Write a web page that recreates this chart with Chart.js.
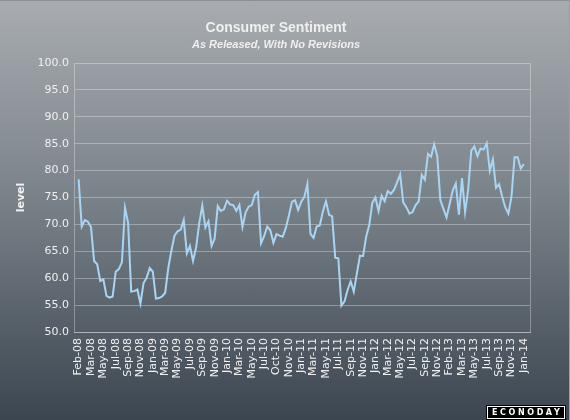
<!DOCTYPE html>
<html>
<head>
<meta charset="utf-8">
<script src="https://cdn.jsdelivr.net/npm/chart.js@4.4.1/dist/chart.umd.min.js"></script>
<style>
  html, body { margin: 0; padding: 0; }
  #wrap {
    position: relative; width: 570px; height: 420px; box-sizing: border-box;
    background: linear-gradient(to bottom, #a8acb1 0%, #7c848b 45%, #3c4650 100%);
    border-top: 1px solid #8d9196; border-right: 1px solid #9aa0a6;
  }
  canvas { display: block; }
</style>
</head>
<body>
<div id="wrap"><canvas id="c" width="570" height="420"></canvas></div>
<script>
// Tick labels (release dates, every 4th release)
const tickLabels = ["Feb-08","Mar-08","May-08","Jul-08","Sep-08","Nov-08","Jan-09","Mar-09","May-09","Jul-09","Sep-09","Nov-09","Jan-10","Mar-10","May-10","Jul-10","Oct-10","Nov-10","Jan-11","Mar-11","May-11","Jul-11","Sep-11","Nov-11","Jan-12","Mar-12","May-12","Jul-12","Sep-12","Nov-12","Feb-13","Mar-13","May-13","Jul-13","Sep-13","Nov-13","Jan-14"];

// Consumer sentiment as released (preliminary / final), by release year
const rel2008 = [78.4, 69.6, 70.8, 70.5, 69.5, 63.2, 62.6, 59.5, 59.8, 56.7, 56.4, 56.6, 61.2, 61.7, 63.0, 73.1, 70.3, 57.5, 57.6, 57.9, 55.3, 59.1, 60.1];
const rel2009 = [61.9, 61.2, 56.2, 56.3, 56.6, 57.3, 61.9, 65.1, 67.9, 68.7, 69.0, 70.8, 64.6, 66.0, 63.2, 65.7, 70.2, 73.5, 69.4, 70.6, 66.0, 67.4, 73.4, 72.5];
const rel2010 = [72.8, 74.4, 73.7, 73.6, 72.5, 73.6, 69.5, 72.2, 73.3, 73.6, 75.5, 76.0, 66.5, 67.8, 69.6, 68.9, 66.6, 68.2, 67.9, 67.7, 69.3, 71.6, 74.2, 74.5];
const rel2011 = [72.7, 74.2, 75.1, 77.5, 68.2, 67.5, 69.6, 69.8, 72.4, 74.3, 71.8, 71.5, 63.8, 63.7, 54.9, 55.7, 57.8, 59.4, 57.5, 60.9, 64.2, 64.1, 67.7, 69.9];
const rel2012 = [74.0, 75.0, 72.5, 75.3, 74.3, 76.2, 75.7, 76.4, 77.8, 79.3, 74.1, 73.2, 72.0, 72.3, 73.6, 74.3, 79.2, 78.3, 83.1, 82.6, 84.9, 82.7, 74.5, 72.9];
const rel2013 = [71.3, 73.8, 76.3, 77.6, 71.8, 78.6, 72.3, 76.4, 83.7, 84.5, 82.7, 84.1, 83.9, 85.1, 80.0, 82.1, 76.8, 77.5, 75.2, 73.2, 72.0, 75.1, 82.5, 82.5];
const rel2014 = [80.4, 81.2];

const releasesPerLabel = 4;
const values = [].concat(rel2008, rel2009, rel2010, rel2011, rel2012, rel2013, rel2014);

const textColor = '#f0f0f0';
const gridColor = 'rgba(255,255,255,0.32)';

const logoPlugin = {
  id: 'logo',
  afterDraw(chart) {
    const ctx = chart.ctx;
    ctx.save();
    ctx.fillStyle = '#000';
    ctx.fillRect(486, 404, 80, 15);
    ctx.strokeStyle = '#ffffff';
    ctx.lineWidth = 1;
    ctx.strokeRect(487.5, 405.5, 77, 12);
    ctx.fillStyle = '#ffffff';
    ctx.font = 'bold 8px "DejaVu Sans"';
    ctx.textBaseline = 'middle';
    ctx.textAlign = 'left';
    try { ctx.letterSpacing = '2.6px'; } catch (e) {}
    ctx.fillText('ECONODAY', 492, 412);
    ctx.restore();
  }
};

new Chart(document.getElementById('c'), {
  type: 'line',
  data: {
    datasets: [{
      label: 'Consumer Sentiment',
      data: values.map((v, i) => ({ x: i, y: v })),
      borderColor: '#a9d5f5',
      borderWidth: 2,
      pointRadius: 0,
      tension: 0,
      fill: false
    }]
  },
  options: {
    responsive: false,
    animation: false,
    layout: { padding: { left: 0, right: 18, top: 0, bottom: 0 } },
    plugins: {
      legend: { display: false },
      tooltip: { enabled: false },
      title: {
        display: true,
        text: 'Consumer Sentiment',
        color: textColor,
        font: { family: '"Liberation Sans", Arial, sans-serif', size: 14, weight: 'bold' },
        padding: { top: 19, bottom: 1 }
      },
      subtitle: {
        display: true,
        text: 'As Released, With No Revisions',
        color: textColor,
        font: { family: '"Liberation Sans", Arial, sans-serif', size: 11, weight: 'bold', style: 'italic' },
        padding: { top: 1, bottom: 11 }
      }
    },
    scales: {
      x: {
        type: 'linear',
        min: -1.5,
        max: 146,
        afterBuildTicks: (s) => { s.ticks = tickLabels.map((_, i) => ({ value: i * releasesPerLabel })); },
        afterFit: (s) => { s.height = 89; },
        grid: { display: false, drawTicks: false },
        border: { display: true, color: gridColor },
        ticks: {
          autoSkip: false,
          minRotation: 90,
          maxRotation: 90,
          padding: 6,
          color: textColor,
          font: { family: '"DejaVu Sans"', size: 11 },
          callback: (v) => tickLabels[Math.round(v / releasesPerLabel)]
        }
      },
      y: {
        min: 50,
        max: 100,
        afterFit: (s) => { s.width = 74; },
        grid: { color: gridColor, drawTicks: false },
        border: { display: true, color: gridColor },
        ticks: {
          stepSize: 5,
          padding: 5,
          color: textColor,
          font: { family: '"DejaVu Sans"', size: 11 },
          callback: (v) => v.toFixed(1)
        },
        title: {
          display: true,
          text: 'level',
          color: textColor,
          font: { family: '"DejaVu Sans"', size: 11, weight: 'bold' },
          padding: { top: 15, bottom: 0 }
        }
      },
      y2: {
        position: 'right',
        afterFit: (s) => { s.width = 22; },
        grid: { display: false, drawTicks: false },
        border: { display: true, color: gridColor },
        ticks: { display: false }
      }
    }
  },
  plugins: [logoPlugin]
});
</script>
</body>
</html>
